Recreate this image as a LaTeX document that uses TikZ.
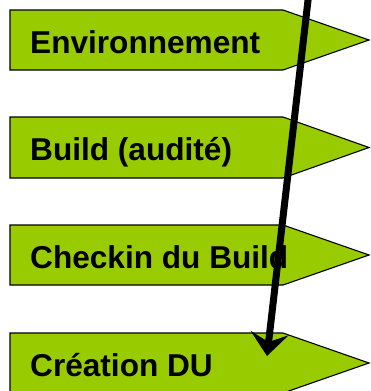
\documentclass[tikz,border=0pt]{standalone}
\usepackage{fontspec}
\setmainfont{Liberation Sans}
\usetikzlibrary{arrows.meta,positioning}
\definecolor{vertpomme}{RGB}{153,204,0}

\begin{document}
\begin{tikzpicture}[x=1pt, y=-1pt,
	etape/.style={draw=black, fill=vertpomme, line width=1.1pt, line join=miter},
	texte/.style={anchor=base west, inner sep=0pt, font=\fontsize{31.6}{36}\selectfont\bfseries}]
\def \boxleft {10}
\def \boxright {283}
\def \tipright {369}
\useasboundingbox (0,0) rectangle (370,391);

%Etapes
\draw[etape] (\boxleft,10) -- (\boxright,10) -- (\tipright,40) -- (\boxright,70) -- (\boxleft,70) -- cycle;
\node[texte] (env) at (30,53) {Environnement};

\draw[etape] (\boxleft,117) -- (\boxright,117) -- (\tipright,147.5) -- (\boxright,178) -- (\boxleft,178) -- cycle;
\node[texte] (build) at (30,160) {Build (audité)};

\draw[etape] (\boxleft,225) -- (\boxright,225) -- (\tipright,255) -- (\boxright,285) -- (\boxleft,285) -- cycle;
\node[texte] (checkin) at (30,268) {Checkin du Build};

\draw[etape] (\boxleft,333) -- (\boxright,333) -- (\tipright,363) -- (\boxright,393) -- (\boxleft,393) -- cycle;
\node[texte] (du) at (30,376) {Création DU};

%Fleche
\coordinate (haut) at (309.2,-10);
\coordinate (bas) at (267,356);
\draw[line width=7pt, -{Stealth[length=23pt, width=38pt, inset=9pt]}] (haut) -- (bas);
\end{tikzpicture}
\end{document}
